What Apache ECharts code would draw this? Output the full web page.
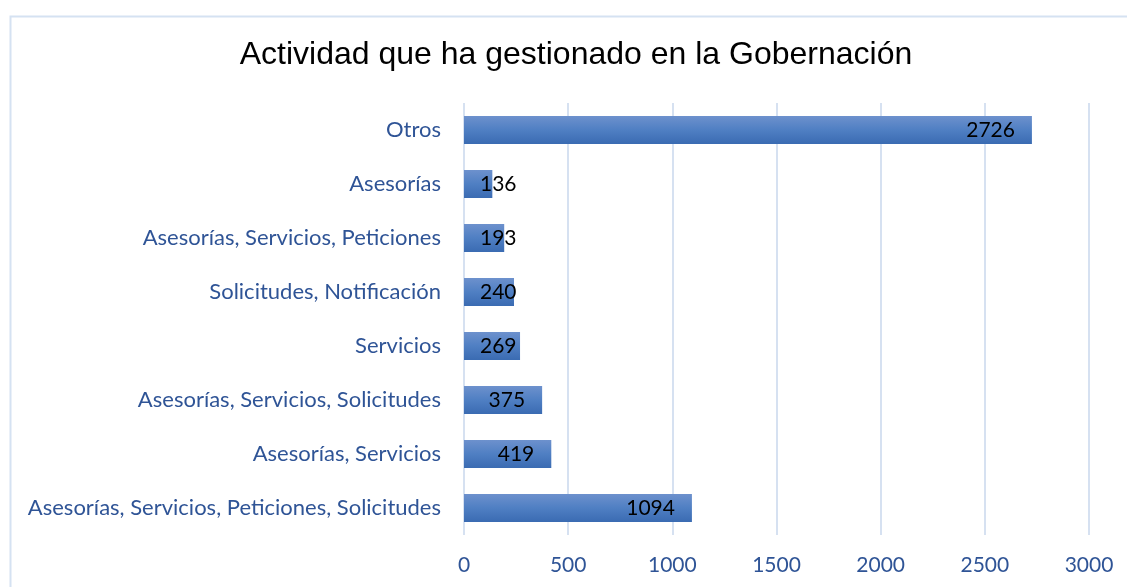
<!DOCTYPE html>
<html>
<head>
<meta charset="utf-8">
<script src="https://cdn.jsdelivr.net/npm/echarts@6/dist/echarts.min.js"></script>
<style>
  html, body { margin: 0; padding: 0; background: #fff; }
  #chart { width: 1127px; height: 587px; }
</style>
</head>
<body>
<div id="chart"></div>
<script>
// categories listed bottom -> top (category axis starts at the bottom)
var categories = [
    'Asesorías, Servicios, Peticiones, Solicitudes',
    'Asesorías, Servicios',
    'Asesorías, Servicios, Solicitudes',
    'Servicios',
    'Solicitudes, Notificación',
    'Asesorías, Servicios, Peticiones',
    'Asesorías',
    'Otros'
];
var values = [1094, 419, 375, 269, 240, 193, 136, 2726];
var xTicks = [0, 500, 1000, 1500, 2000, 2500, 3000];

var chart = echarts.init(document.getElementById('chart'));

// short bars: label cannot fit inside the end, so it is pushed from the start
var barData = values.map(function (v) {
    if (v < 300) {
        return { value: v, label: { position: 'insideLeft', distance: 16 } };
    }
    return v;
});

var option = {
    animation: false,
    graphic: [{
        type: 'rect',
        left: 8, top: 14,
        shape: { width: 1140, height: 600 },
        style: { fill: 'none', stroke: '#d5e2f2', lineWidth: 2 },
        silent: true
    }],
    title: {
        text: 'Actividad que ha gestionado en la Gobernación',
        left: 571,
        textAlign: 'center',
        top: 34,
        textStyle: {
            fontFamily: 'Liberation Sans, Arial, sans-serif',
            fontWeight: 'normal',
            fontSize: 32,
            color: '#000'
        }
    },
    grid: { left: 464, right: 38, top: 103, bottom: 52 },
    xAxis: {
        type: 'value',
        min: xTicks[0],
        max: xTicks[xTicks.length - 1],
        interval: 500,
        axisLine: { show: false },
        axisTick: { show: false },
        axisLabel: {
            margin: 20,
            fontFamily: 'Lato, sans-serif',
            fontSize: 21,
            color: '#2f5496',
            formatter: function (v) { return String(v); }
        },
        splitLine: { lineStyle: { color: '#d6e1f1', width: 2 } }
    },
    yAxis: {
        type: 'category',
        data: categories,
        axisLine: { show: false },
        axisTick: { show: false },
        axisLabel: {
            margin: 23,
            fontFamily: 'Lato, sans-serif',
            fontSize: 22,
            color: '#2f5496'
        }
    },
    series: [{
        type: 'bar',
        data: barData,
        barWidth: 28,
        itemStyle: {
            color: {
                type: 'linear', x: 0, y: 0, x2: 0, y2: 1,
                colorStops: [
                    { offset: 0, color: '#6d91cd' },
                    { offset: 0.5, color: '#4f7fc3' },
                    { offset: 1, color: '#3a6bb2' }
                ]
            }
        },
        label: {
            show: true,
            position: 'insideRight',
            distance: 17,
            fontFamily: 'Lato, sans-serif',
            fontSize: 21,
            color: '#000'
        }
    }]
};

chart.setOption(option);
</script>
</body>
</html>
